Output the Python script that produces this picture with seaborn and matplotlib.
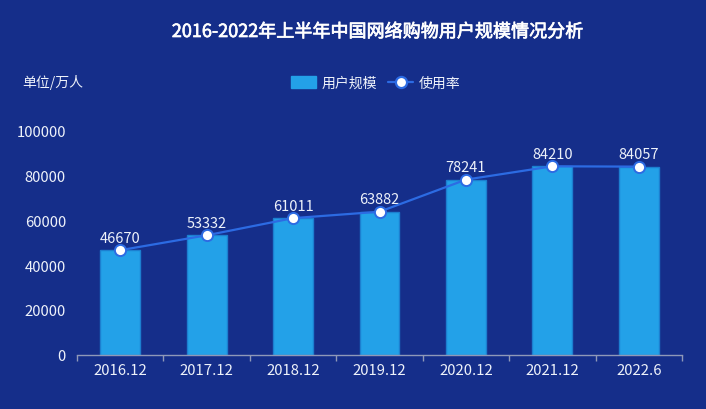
import matplotlib
matplotlib.use("Agg")
import matplotlib.pyplot as plt
import matplotlib.patheffects as pe
import seaborn as sns
import pandas as pd
import numpy as np
from matplotlib.lines import Line2D
from matplotlib.patches import Patch

categories = ["2016.12", "2017.12", "2018.12", "2019.12", "2020.12", "2021.12", "2022.6"]
users = [46670, 53332, 61011, 63882, 78241, 84210, 84057]
yticks = [0, 20000, 40000, 60000, 80000, 100000]

BG = "#152e8a"
BAR = "#23a1e8"
LINE = "#2c6be3"
TXT = "#eef2fa"

sns.set_theme(style="white")
plt.rcParams['font.family'] = ['Noto Sans CJK SC', 'DejaVu Sans']

df = pd.DataFrame({"period": categories, "users": users})

fig = plt.figure(figsize=(7.06, 4.10), dpi=100, facecolor=BG)
ax = fig.add_axes([77/706, 54.5/410, 605/706, 223.5/410])
ax.set_facecolor(BG)

sns.barplot(data=df, x="period", y="users", color=BAR, width=0.46,
            edgecolor="#1c7fd0", linewidth=1, saturation=1, ax=ax)
x = np.arange(len(categories))
ax.plot(x, users, color=LINE, lw=1.6, marker="o", markersize=8,
        markerfacecolor="white", markeredgecolor=LINE, markeredgewidth=1.4, zorder=5)
for xi, v in zip(x, users):
    ax.annotate(f"{v}", (xi, v), xytext=(0, 4), textcoords="offset points",
                ha="center", va="bottom", color=TXT, fontsize=10.5, annotation_clip=False)

ax.set_xlim(-0.5, len(categories) - 0.5)
ax.set_ylim(0, 100000)
ax.set_yticks(yticks)
ax.set_yticklabels([str(t) for t in yticks], color=TXT, fontsize=10.7)
ax.set_xticks(x)
ax.set_xticklabels(categories, color=TXT, fontsize=10.7)
ax.set_xticks(np.arange(len(categories) + 1) - 0.5, minor=True)
ax.tick_params(axis="x", which="major", length=0, pad=6)
ax.tick_params(axis="x", which="minor", length=4, color="#8f98b8", direction="out", bottom=True)
ax.tick_params(axis="y", length=0, pad=8)
ax.set_xlabel("")
ax.set_ylabel("")
for s in ["top", "right", "left"]:
    ax.spines[s].set_visible(False)
ax.spines["bottom"].set_color("#8f98b8")
ax.spines["bottom"].set_linewidth(1)

fig.text(377/706, 1 - 33/410, "2016-2022年上半年中国网络购物用户规模情况分析",
         ha="center", va="center", color="white", fontsize=13,
         path_effects=[pe.withStroke(linewidth=0.5, foreground="white")])
fig.text(22/706, 1 - 83/410, "单位/万人", ha="left", va="center", color=TXT, fontsize=10)

handles = [Patch(facecolor=BAR, edgecolor=BAR),
           Line2D([0], [0], color=LINE, lw=1.6, marker="o", markersize=8,
                  markerfacecolor="white", markeredgecolor=LINE, markeredgewidth=1.6)]
leg = fig.legend(handles, ["用户规模", "使用率"], loc="center", bbox_to_anchor=(376/706, 1 - 84/410),
                 ncol=2, frameon=False, fontsize=10, handlelength=1.8, handleheight=0.9,
                 columnspacing=0.8, handletextpad=0.4)
for t in leg.get_texts():
    t.set_color(TXT)

fig.savefig("out.png", dpi=100, facecolor=BG)
